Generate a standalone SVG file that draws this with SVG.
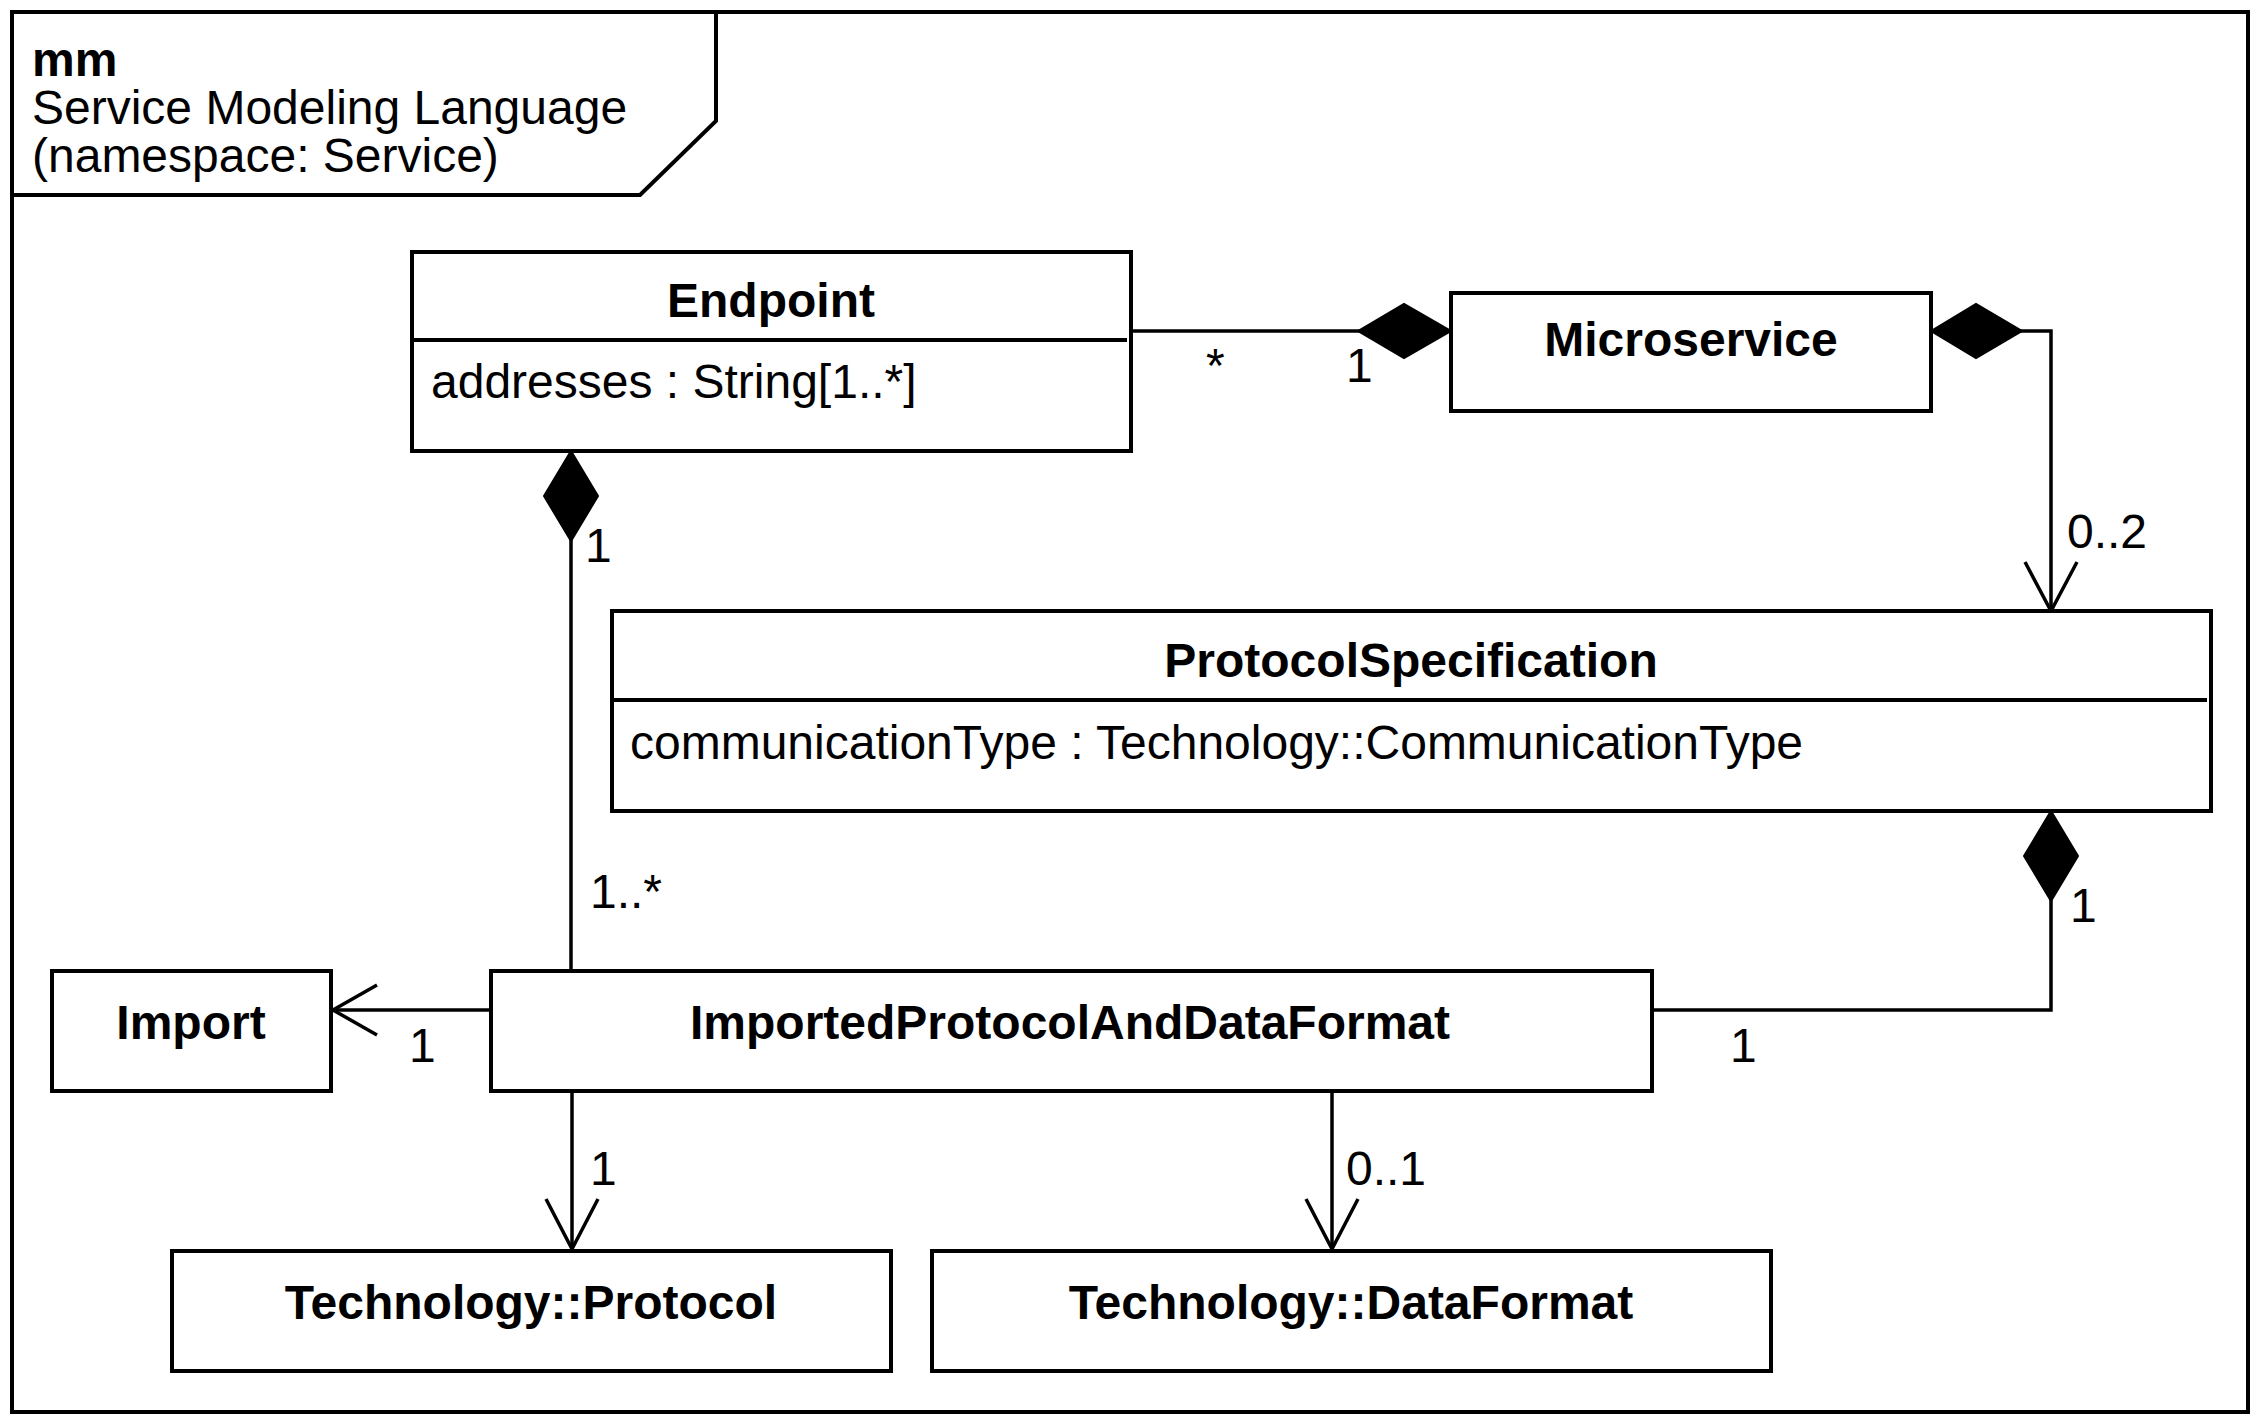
<svg xmlns="http://www.w3.org/2000/svg" width="2260" height="1420" viewBox="0 0 2260 1420">
<style>
.box{fill:#fff;stroke:#000;stroke-width:4}
.ln{fill:none;stroke:#000;stroke-width:3.5}
.dia{fill:#000;stroke:#000;stroke-width:2}
text{font-family:"Liberation Sans",Arial,sans-serif;font-size:48px;fill:#000}
.b{font-weight:bold}
.c{text-anchor:middle}
</style>
<rect width="2260" height="1420" fill="#fff"/>
<g id="frame">
<rect x="12" y="12" width="2236" height="1400" fill="none" stroke="#000" stroke-width="4"/>
<path d="M12,12 H716 V121 L640,195 H12" fill="none" stroke="#000" stroke-width="4"/>
<text x="32" y="76" class="b">mm</text>
<text x="32" y="124">Service Modeling Language</text>
<text x="32" y="172">(namespace: Service)</text>
</g>
<g id="connectors">
<line class="ln" x1="1131" y1="331" x2="1360" y2="331"/>
<path class="dia" d="M1358,331 L1404,304 L1451,331 L1404,358 Z"/>
<path class="ln" d="M2020,331 H2051 V611"/>
<path class="dia" d="M1931,331 L1976,304 L2022,331 L1976,358 Z"/>
<path class="ln" d="M2025,562 L2051,611 L2077,562"/>
<path class="ln" d="M2051,898 V1010 H1652"/>
<path class="dia" d="M2051,811 L2078,856 L2051,901 L2024,856 Z"/>
<line class="ln" x1="571" y1="538" x2="571" y2="971"/>
<path class="dia" d="M571,451 L598,496 L571,541 L544,496 Z"/>
<line class="ln" x1="491" y1="1010" x2="333" y2="1010"/>
<path class="ln" d="M377,985 L333,1010 L377,1035"/>
<line class="ln" x1="572" y1="1091" x2="572" y2="1249"/>
<path class="ln" d="M546,1199 L572,1249 L598,1199"/>
<line class="ln" x1="1332" y1="1091" x2="1332" y2="1249"/>
<path class="ln" d="M1306,1199 L1332,1249 L1358,1199"/>
<text x="1206" y="382">*</text>
<text x="1346" y="382">1</text>
<text x="2067" y="548">0..2</text>
<text x="2070" y="922">1</text>
<text x="1730" y="1062">1</text>
<text x="585" y="562">1</text>
<text x="590" y="908">1..*</text>
<text x="409" y="1062">1</text>
<text x="590" y="1185">1</text>
<text x="1346" y="1185">0..1</text>
</g>
<g id="Endpoint">
<rect class="box" x="412" y="252" width="719" height="199"/>
<line x1="412" y1="340" x2="1127" y2="340" stroke="#000" stroke-width="4"/>
<text x="771" y="317" class="b c">Endpoint</text>
<text x="431" y="398">addresses : String[1..*]</text>
</g>
<g id="Microservice">
<rect class="box" x="1451" y="293" width="480" height="118"/>
<text x="1691" y="356" class="b c">Microservice</text>
</g>
<g id="ProtocolSpecification">
<rect class="box" x="612" y="611" width="1599" height="200"/>
<line x1="612" y1="700" x2="2207" y2="700" stroke="#000" stroke-width="4"/>
<text x="1411" y="677" class="b c">ProtocolSpecification</text>
<text x="630" y="759">communicationType : Technology::CommunicationType</text>
</g>
<g id="Import">
<rect class="box" x="52" y="971" width="279" height="120"/>
<text x="191" y="1039" class="b c">Import</text>
</g>
<g id="ImportedProtocolAndDataFormat">
<rect class="box" x="491" y="971" width="1161" height="120"/>
<text x="1070" y="1039" class="b c">ImportedProtocolAndDataFormat</text>
</g>
<g id="TechnologyProtocol">
<rect class="box" x="172" y="1251" width="719" height="120"/>
<text x="531" y="1319" class="b c">Technology::Protocol</text>
</g>
<g id="TechnologyDataFormat">
<rect class="box" x="932" y="1251" width="839" height="120"/>
<text x="1351" y="1319" class="b c">Technology::DataFormat</text>
</g>
</svg>
